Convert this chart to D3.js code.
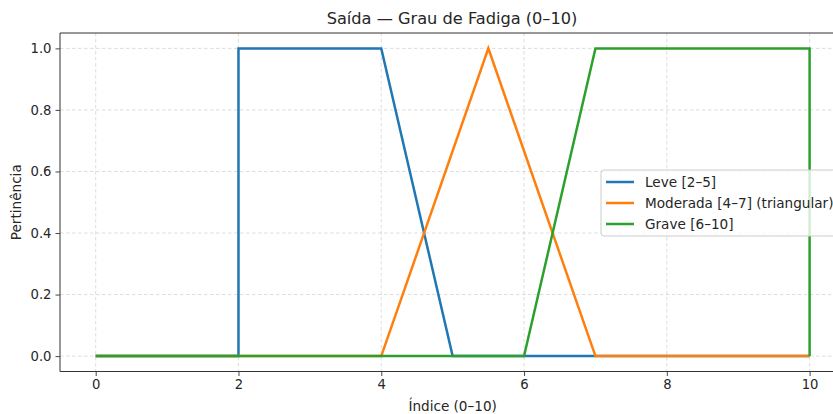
<!DOCTYPE html>
<html><head><meta charset="utf-8">
<script src="https://cdn.jsdelivr.net/npm/d3@7"></script>
<style>body{margin:0;background:#fff}svg{display:block}text{font-family:"DejaVu Sans",sans-serif;fill:#262626}</style>
</head><body><svg id="c" width="833" height="414"></svg>
<script>
const title = "Saída — Grau de Fadiga (0–10)";
const xLabel = "Índice (0–10)";
const yLabel = "Pertinência";
const xTicks = [0, 2, 4, 6, 8, 10];
const yTicks = [0, 0.2, 0.4, 0.6, 0.8, 1.0];
const seriesNames = ["Leve [2–5]", "Moderada [4–7] (triangular)", "Grave [6–10]"];
const seriesColors = ["#1f77b4", "#ff7f0e", "#2ca02c"];
const leveX = [0, 2, 2, 4, 5, 10];
const leveY = [0, 0, 1, 1, 0, 0];
const moderadaX = [0, 4, 5.5, 7, 10];
const moderadaY = [0, 0, 1, 0, 0];
const graveX = [0, 6, 7, 10, 10];
const graveY = [0, 0, 1, 1, 0];

const svg = d3.select("#c");
const L = 60, T = 33, B = 371.5;
const x = d3.scaleLinear().domain([-0.5, 10.5]).range([L, 845.3]);
const y = d3.scaleLinear().domain([-0.05, 1.05]).range([B, T]);
const R = x(10.5);

// grid
const g = svg.append("g");
g.selectAll(".vg").data(xTicks).join("line")
  .attr("x1", d => x(d)).attr("x2", d => x(d)).attr("y1", T).attr("y2", B)
  .attr("stroke", "#b0b0b0").attr("stroke-opacity", 0.55).attr("stroke-width", 0.8).attr("stroke-dasharray", "3.5,2.5");
g.selectAll(".hg").data(yTicks).join("line")
  .attr("x1", L).attr("x2", R).attr("y1", d => y(d)).attr("y2", d => y(d))
  .attr("stroke", "#b0b0b0").attr("stroke-opacity", 0.55).attr("stroke-width", 0.8).attr("stroke-dasharray", "3.5,2.5");

// lines
const sets = [[leveX, leveY], [moderadaX, moderadaY], [graveX, graveY]];
const line = d3.line().x(d => x(d[0])).y(d => y(d[1]));
sets.forEach((s, i) => {
  const pts = s[0].map((v, k) => [v, s[1][k]]);
  svg.append("path").datum(pts).attr("d", line).attr("fill", "none")
    .attr("stroke", seriesColors[i]).attr("stroke-width", 2.5).attr("stroke-linejoin", "miter");
});

// axes
const xa = svg.append("g").attr("transform", `translate(0,${B})`)
  .call(d3.axisBottom(x).tickValues(xTicks).tickFormat(d3.format("d")).tickSize(4.5).tickPadding(4));
const ya = svg.append("g").attr("transform", `translate(${L},0)`)
  .call(d3.axisLeft(y).tickValues(yTicks).tickFormat(d3.format(".1f")).tickSize(4.5).tickPadding(4));
[xa, ya].forEach(a => {
  a.select(".domain").remove();
  a.selectAll(".tick line").attr("stroke", "#333").attr("stroke-width", 0.9);
  a.selectAll(".tick text").style("font-family", "DejaVu Sans").style("font-size", "13.2px").attr("fill", "#262626");
});
// spines
svg.append("line").attr("x1", L).attr("x2", L).attr("y1", T).attr("y2", B).attr("stroke", "#333").attr("stroke-width", 1);
svg.append("line").attr("x1", L).attr("x2", R).attr("y1", B).attr("y2", B).attr("stroke", "#333").attr("stroke-width", 1);
svg.append("line").attr("x1", L).attr("x2", R).attr("y1", T).attr("y2", T).attr("stroke", "#333").attr("stroke-width", 1);

// title & labels
svg.append("text").attr("x", 452).attr("y", 24).attr("text-anchor", "middle").style("font-size", "16.2px").text(title);
svg.append("text").attr("x", x(5)).attr("y", 411).attr("text-anchor", "middle").style("font-size", "13.6px").text(xLabel);
svg.append("text").attr("transform", `translate(21,${(T + B) / 2}) rotate(-90)`).attr("text-anchor", "middle").style("font-size", "13.6px").text(yLabel);

// legend
const lg = svg.append("g");
lg.append("rect").attr("x", 601).attr("y", 170).attr("width", 250).attr("height", 66).attr("rx", 3)
  .attr("fill", "#fff").attr("fill-opacity", 0.8).attr("stroke", "#cccccc").attr("stroke-width", 1);
seriesNames.forEach((n, i) => {
  const yy = 182 + i * 21;
  lg.append("line").attr("x1", 606).attr("x2", 634).attr("y1", yy).attr("y2", yy)
    .attr("stroke", seriesColors[i]).attr("stroke-width", 2.5);
  lg.append("text").attr("x", 645).attr("y", yy + 4.7).style("font-size", "13.6px").text(n);
});
</script></body></html>
